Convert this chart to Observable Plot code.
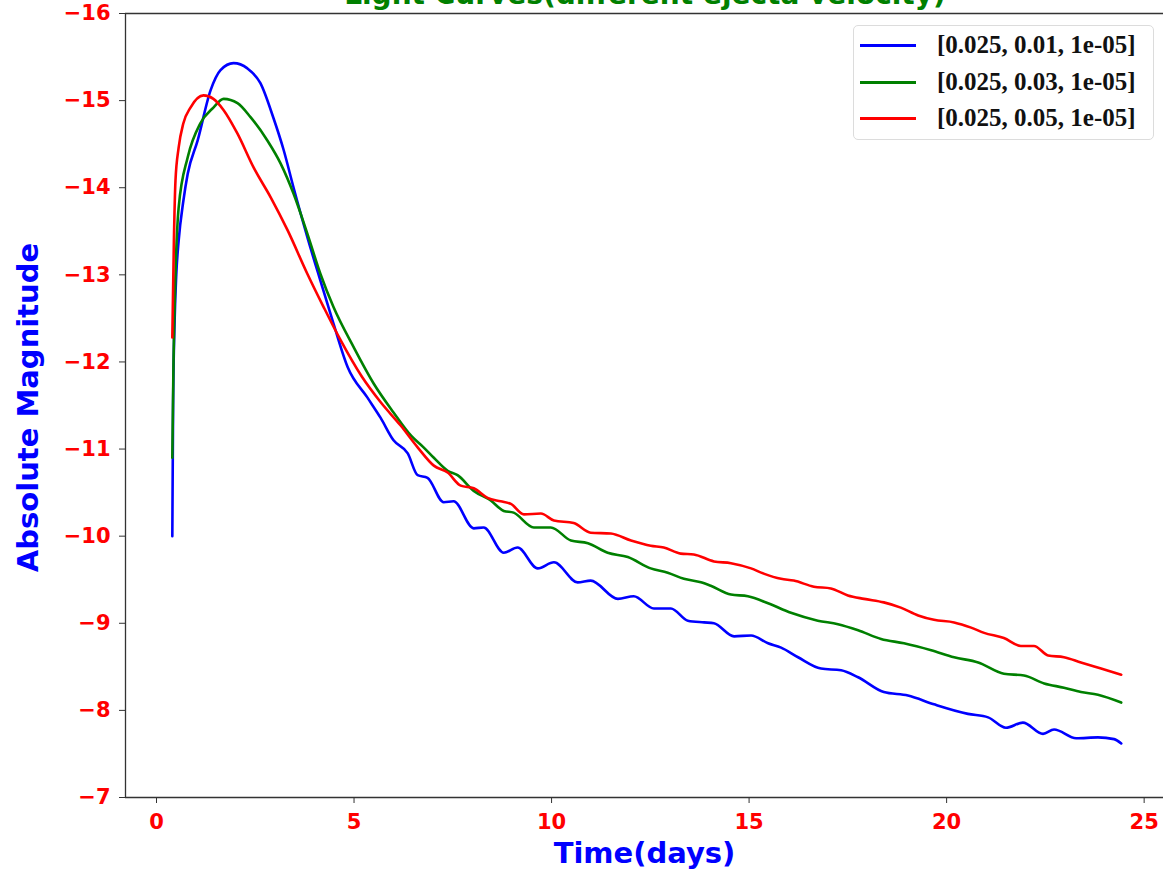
<!DOCTYPE html>
<html>
<head>
<meta charset="utf-8">
<script src="https://cdn.jsdelivr.net/npm/d3@7"></script>
<script src="https://cdn.jsdelivr.net/npm/@observablehq/plot@0.6"></script>
<style>
  html, body { margin: 0; padding: 0; background: white; overflow: hidden; }
  #wrap { position: relative; width: 1163px; height: 869px; }
  #title {
    position: absolute; left: 0; width: 1290px; top: -19px; text-align: center;
    font: bold 28px "DejaVu Sans"; line-height: 28px; color: green; white-space: nowrap;
  }
  #legend {
    position: absolute; left: 853px; top: 25px; width: 301px; height: 115px;
    border: 1px solid #dcdcdc; border-radius: 5px; background: rgba(255,255,255,0.85);
    box-sizing: border-box;
  }
  .row { position: absolute; left: 0; height: 30px; }
  .swatch { position: absolute; left: 6px; width: 56px; height: 3px; }
  .lab { position: absolute; left: 83px; font: bold 25px "Liberation Serif"; color: #111; white-space: nowrap; line-height: 30px; top: 0; }
</style>
</head>
<body>
<div id="wrap">
  <div id="chart"></div>
  <div id="title"></div>
  <div id="legend"></div>
</div>
<script>
// Light curves for three ejecta velocities: [time (days), absolute magnitude]
const seriesLabels = ["[0.025, 0.01, 1e-05]", "[0.025, 0.03, 1e-05]", "[0.025, 0.05, 1e-05]"];
const seriesColors = ["blue", "green", "red"];
const titleText = "Light Curves(different ejecta velocity)";
const xLabel = "Time(days)";
const yLabel = "Absolute Magnitude";
const xTicks = [0, 5, 10, 15, 20, 25];
const yTicks = [-16, -15, -14, -13, -12, -11, -10, -9, -8, -7];

const curveV001 = [
  [0.40, -10.00], [0.42, -11.50], [0.46, -12.50], [0.50, -13.00], [0.56, -13.39],
  [0.68, -13.85], [0.79, -14.16], [1.04, -14.54], [1.37, -15.12], [1.62, -15.35],
  [1.95, -15.43], [2.30, -15.37], [2.63, -15.20], [2.96, -14.80], [3.22, -14.43],
  [3.47, -14.00], [3.82, -13.43], [4.15, -12.93], [4.48, -12.44], [4.84, -11.94],
  [5.34, -11.59], [5.67, -11.36], [6.00, -11.10], [6.36, -10.95], [6.61, -10.70],
  [6.86, -10.67], [7.27, -10.39], [7.52, -10.40], [8.03, -10.09], [8.28, -10.10],
  [8.79, -9.81], [9.14, -9.87], [9.65, -9.63], [10.06, -9.70], [10.66, -9.47],
  [10.99, -9.49], [11.68, -9.28], [12.08, -9.31], [12.59, -9.17], [13.02, -9.17],
  [13.45, -9.03], [13.86, -9.01], [14.11, -9.00], [14.62, -8.85], [15.05, -8.86],
  [15.48, -8.77], [15.81, -8.72], [16.24, -8.61], [16.82, -8.48], [17.33, -8.46],
  [17.76, -8.38], [18.41, -8.21], [19.02, -8.17], [19.68, -8.07], [20.54, -7.96],
  [21.05, -7.92], [21.50, -7.80], [21.93, -7.86], [22.44, -7.73], [22.72, -7.78],
  [23.28, -7.68], [23.83, -7.69], [24.24, -7.67], [24.42, -7.62]
];

const curveV003 = [
  [0.40, -10.90], [0.43, -12.00], [0.48, -13.00], [0.56, -13.77], [0.79, -14.35],
  [1.11, -14.74], [1.44, -14.92], [1.70, -15.02], [2.05, -14.97], [2.38, -14.81],
  [2.81, -14.54], [3.14, -14.28], [3.47, -13.93], [3.82, -13.47], [4.15, -13.01],
  [4.48, -12.63], [4.99, -12.17], [5.50, -11.75], [6.00, -11.42], [6.45, -11.15],
  [6.76, -11.02], [7.02, -10.90], [7.37, -10.75], [7.62, -10.70], [8.03, -10.52],
  [8.46, -10.41], [8.79, -10.29], [9.04, -10.27], [9.55, -10.10], [9.98, -10.10],
  [10.49, -9.95], [10.92, -9.92], [11.42, -9.81], [11.93, -9.76], [12.51, -9.63],
  [12.94, -9.58], [13.35, -9.51], [13.78, -9.47], [14.03, -9.43], [14.54, -9.33],
  [14.97, -9.31], [15.48, -9.23], [16.06, -9.12], [16.74, -9.03], [17.25, -8.99],
  [17.76, -8.92], [18.34, -8.82], [18.92, -8.77], [19.61, -8.69], [20.19, -8.61],
  [20.80, -8.55], [21.45, -8.42], [21.96, -8.40], [22.47, -8.31], [22.97, -8.26],
  [23.40, -8.21], [23.83, -8.18], [24.42, -8.09]
];

const curveV005 = [
  [0.40, -12.28], [0.44, -13.39], [0.48, -14.08], [0.56, -14.46], [0.68, -14.74],
  [0.86, -14.92], [1.19, -15.06], [1.44, -15.02], [1.70, -14.89], [2.05, -14.62],
  [2.46, -14.23], [2.89, -13.89], [3.32, -13.51], [3.82, -13.01], [4.23, -12.63],
  [4.66, -12.25], [5.20, -11.83], [5.67, -11.54], [6.18, -11.27], [6.61, -11.02],
  [7.02, -10.81], [7.37, -10.73], [7.70, -10.58], [8.03, -10.55], [8.38, -10.44],
  [8.71, -10.40], [8.97, -10.37], [9.30, -10.25], [9.73, -10.26], [10.06, -10.18],
  [10.56, -10.15], [10.99, -10.04], [11.50, -10.03], [12.01, -9.95], [12.51, -9.89],
  [12.84, -9.87], [13.27, -9.80], [13.60, -9.79], [14.11, -9.71], [14.54, -9.69],
  [15.05, -9.63], [15.37, -9.57], [15.81, -9.51], [16.13, -9.49], [16.64, -9.42],
  [17.07, -9.40], [17.50, -9.32], [17.91, -9.28], [18.41, -9.24], [18.84, -9.18],
  [19.28, -9.09], [19.68, -9.04], [20.19, -9.01], [20.62, -8.95], [20.95, -8.89],
  [21.45, -8.83], [21.88, -8.74], [22.21, -8.74], [22.57, -8.63], [22.97, -8.61],
  [23.40, -8.55], [23.91, -8.48], [24.42, -8.41]
];

const curves = [curveV001, curveV003, curveV005];
const rows = curves.flatMap((c, i) => c.map(([t, m]) => ({t, m, series: seriesLabels[i]})));

const tickFont = {fontSize: 21, fontWeight: "bold"};

const chart = Plot.plot({
  width: 1163,
  height: 869,
  marginLeft: 125,
  marginRight: 0,
  marginTop: 13,
  marginBottom: 72,
  style: {fontFamily: "DejaVu Sans", background: "white", overflow: "visible"},
  x: {domain: [-0.785, 25.49], label: null},
  y: {domain: [-16, -7], reverse: true, label: null},
  color: {domain: seriesLabels, range: seriesColors},
  marks: [
    Plot.axisX({ticks: xTicks, tickSize: 6, tickPadding: 11, stroke: "#333", fill: "red",
      tickFormat: d => String(d), label: null, ...tickFont}),
    Plot.axisY({ticks: yTicks, tickSize: 6, tickPadding: 9, stroke: "#333", fill: "red",
      tickFormat: d => String(d).replace("-", "\u2212"), label: null, ...tickFont}),
    Plot.ruleX([-0.785], {stroke: "#333", strokeWidth: 1.3}),
    Plot.ruleY([-16, -7], {stroke: "#333", strokeWidth: 1.3}),
    Plot.line(rows, {x: "t", y: "m", z: "series", stroke: "series", strokeWidth: 2.6, curve: "monotone-x"}),
    Plot.text([xLabel], {frameAnchor: "bottom", dy: 56, text: d => d, fill: "blue",
      fontSize: 29, fontWeight: "bold", lineAnchor: "middle", textAnchor: "middle"}),
    Plot.text([yLabel], {frameAnchor: "left", dx: -97, dy: 2, rotate: -90, text: d => d, fill: "blue",
      fontSize: 29, fontWeight: "bold", lineAnchor: "middle", textAnchor: "middle"})
  ]
});
document.getElementById("chart").appendChild(chart);
document.getElementById("title").textContent = titleText;

// Legend box
const legend = document.getElementById("legend");
seriesLabels.forEach((lab, i) => {
  const row = document.createElement("div");
  row.className = "row";
  row.style.top = (4 + i * 36.5) + "px";
  row.style.width = "100%";
  const sw = document.createElement("div");
  sw.className = "swatch";
  sw.style.background = seriesColors[i];
  sw.style.top = "14px";
  const tx = document.createElement("div");
  tx.className = "lab";
  tx.textContent = lab;
  row.appendChild(sw);
  row.appendChild(tx);
  legend.appendChild(row);
});
</script>
</body>
</html>
